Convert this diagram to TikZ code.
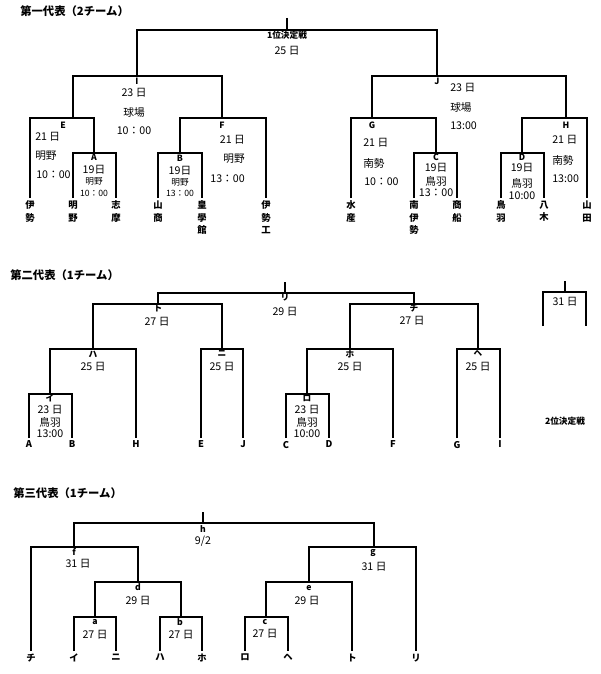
\documentclass[tikz,border=0pt]{standalone}
\usepackage{fontspec}
\newfontfamily\jp{Noto Sans CJK JP}

\begin{document}
\begin{tikzpicture}[x=0.75pt, y=-0.75pt,
  bar/.style={black, line width=1pt},
  rnd/.style={font=\jp\bfseries\fontsize{6.5}{7}\selectfont, inner sep=0pt},
  info/.style={font=\jp\fontsize{8}{9}\selectfont, inner sep=0pt},
  boxtxt/.style={font=\jp\fontsize{8}{9}\selectfont, inner sep=0pt},
  tiny/.style={font=\jp\fontsize{6.5}{7}\selectfont, inner sep=0pt},
  team/.style={font=\jp\bfseries\fontsize{7}{9.4}\selectfont, inner sep=2pt, anchor=north, align=center},
  ttl/.style={font=\jp\bfseries\fontsize{8.5}{10}\selectfont, anchor=west, inner sep=0pt}]
  \useasboundingbox (0,0) rectangle (600,674);

  % first representative
  \node[ttl] (ttl1) at (20,11) {第一代表（2チーム）};
  \coordinate (s1) at (287,18);
  \coordinate (m1) at (287,30);
  \coordinate (mI) at (137,76);
  \coordinate (mJ) at (437,76);
  \coordinate (mE) at (73,118);
  \coordinate (mF) at (222,118);
  \coordinate (mG) at (372,118);
  \coordinate (mH) at (566,118);
  \coordinate (mA) at (94,153);
  \coordinate (mB) at (180,153);
  \coordinate (mC) at (436,153);
  \coordinate (mD) at (522,153);
  \node[team] (ise) at (30,198) {伊\\勢};
  \node[team] (akeno) at (73,198) {明\\野};
  \node[team] (shima) at (116,198) {志\\摩};
  \node[team] (sansho) at (158,198) {山\\商};
  \node[team] (kogakkan) at (202,198) {皇\\學\\館};
  \node[team] (iseko) at (266,198) {伊\\勢\\工};
  \node[team] (suisan) at (351,198) {水\\産};
  \node[team] (minamiise) at (414,198) {南\\伊\\勢};
  \node[team] (shosen) at (457,198) {商\\船};
  \node[team] (toba) at (501,198) {鳥\\羽};
  \node[team] (yagi) at (544,198) {八\\木};
  \node[team] (yamada) at (587,198) {山\\田};
  \draw[bar] (s1) -- (m1);
  \draw[bar] (mI) |- (m1) -| (mJ);
  \draw[bar] (mE) |- (mI) -| (mF);
  \draw[bar] (mG) |- (mJ) -| (mH);
  \draw[bar] (ise) |- (mE) -| (mA);
  \draw[bar] (mB) |- (mF) -| (iseko);
  \draw[bar] (suisan) |- (mG) -| (mC);
  \draw[bar] (mD) |- (mH) -| (yamada);
  \draw[bar] (akeno) |- (mA) -| (shima);
  \draw[bar] (sansho) |- (mB) -| (kogakkan);
  \draw[bar] (minamiise) |- (mC) -| (shosen);
  \draw[bar] (toba) |- (mD) -| (yagi);
  \node[rnd] (r1) at (287,35) {1位決定戦};
  \node[info] (r1d) at (287,51) {25 日};
  \node[rnd] (rI) at (137,81) {I};
  \node[info] (rId) at (134,93) {23 日};
  \node[info] (rIp) at (134,112) {球場};
  \node[info] (rIt) at (134,131) {10：00};
  \node[rnd] (rJ) at (437,81) {J};
  \node[info, anchor=west] (rJd) at (450,88) {23 日};
  \node[info, anchor=west] (rJp) at (450,107) {球場};
  \node[info, anchor=west] (rJt) at (450,126) {13:00};
  \node[rnd] (rE) at (63,125) {E};
  \node[info, anchor=west] (rEd) at (35,137) {21 日};
  \node[info, anchor=west] (rEp) at (35,156) {明野};
  \node[info, anchor=west] (rEt) at (36,175) {10：00};
  \node[rnd] (rF) at (222,125) {F};
  \node[info, anchor=east] (rFd) at (245,140) {21 日};
  \node[info, anchor=east] (rFp) at (245,159) {明野};
  \node[info, anchor=east] (rFt) at (245,179) {13：00};
  \node[rnd] (rG) at (372,125) {G};
  \node[info, anchor=west] (rGd) at (363,143) {21 日};
  \node[info, anchor=west] (rGp) at (363,163) {南勢};
  \node[info, anchor=west] (rGt) at (364,182) {10：00};
  \node[rnd] (rH) at (566,125) {H};
  \node[info, anchor=west] (rHd) at (552,140) {21 日};
  \node[info, anchor=west] (rHp) at (552,160) {南勢};
  \node[info, anchor=west] (rHt) at (552,179) {13:00};
  \node[rnd] (rA) at (94,157) {A};
  \node[boxtxt] (rAd) at (94,170) {19日};
  \node[tiny] (rAp) at (94,181) {明野};
  \node[tiny] (rAt) at (94,193) {10：00};
  \node[rnd] (rB) at (180,158) {B};
  \node[boxtxt] (rBd) at (180,171) {19日};
  \node[tiny] (rBp) at (180,182) {明野};
  \node[tiny] (rBt) at (180,193) {13：00};
  \node[rnd] (rC) at (436,157) {C};
  \node[boxtxt] (rCd) at (436,168) {19日};
  \node[boxtxt] (rCp) at (436,181) {鳥羽};
  \node[boxtxt] (rCt) at (436,193) {13：00};
  \node[rnd] (rD) at (522,157) {D};
  \node[boxtxt] (rDd) at (522,168) {19日};
  \node[boxtxt] (rDp) at (522,183) {鳥羽};
  \node[boxtxt] (rDt) at (522,196) {10:00};

  % second representative
  \node[ttl] (ttl2) at (10,275) {第二代表（1チーム）};
  \coordinate (s2) at (285,282);
  \coordinate (m2) at (285,293);
  \coordinate (mTo) at (158,304);
  \coordinate (mChi) at (414,304);
  \coordinate (mHa) at (93,349);
  \coordinate (mNi) at (222,349);
  \coordinate (mHo) at (350,349);
  \coordinate (mHe) at (478,349);
  \coordinate (mI2) at (50,394);
  \coordinate (mRo) at (307,394);
  \node[team] (A2) at (29,438) {A};
  \node[team] (B2) at (72,438) {B};
  \node[team] (H2) at (136,438) {H};
  \node[team] (E2) at (201,438) {E};
  \node[team] (J2) at (243,438) {J};
  \node[team] (C2) at (286,438) {C};
  \node[team] (D2) at (329,438) {D};
  \node[team] (F2) at (393,438) {F};
  \node[team] (G2) at (457,438) {G};
  \node[team] (I2) at (500,438) {I};
  \draw[bar] (s2) -- (m2);
  \draw[bar] (mTo) |- (m2) -| (mChi);
  \draw[bar] (mHa) |- (mTo) -| (mNi);
  \draw[bar] (mHo) |- (mChi) -| (mHe);
  \draw[bar] (mI2) |- (mHa) -| (H2);
  \draw[bar] (E2) |- (mNi) -| (J2);
  \draw[bar] (mRo) |- (mHo) -| (F2);
  \draw[bar] (G2) |- (mHe) -| (I2);
  \draw[bar] (A2) |- (mI2) -| (B2);
  \draw[bar] (C2) |- (mRo) -| (D2);
  \node[rnd] (rRi) at (285,297) {リ};
  \node[info] (rRid) at (285,312) {29 日};
  \node[rnd] (rTo) at (158,308) {ト};
  \node[info] (rTod) at (157,322) {27 日};
  \node[rnd] (rChi) at (414,308) {チ};
  \node[info] (rChid) at (412,321) {27 日};
  \node[rnd] (rHa) at (93,354) {ハ};
  \node[info] (rHad) at (93,367) {25 日};
  \node[rnd] (rNi) at (222,353) {ニ};
  \node[info] (rNid) at (222,367) {25 日};
  \node[rnd] (rHo) at (350,354) {ホ};
  \node[info] (rHod) at (350,367) {25 日};
  \node[rnd] (rHe) at (478,353) {ヘ};
  \node[info] (rHed) at (478,367) {25 日};
  \node[rnd] (rI2) at (50,398) {イ};
  \node[boxtxt] (rI2d) at (50,410) {23 日};
  \node[boxtxt] (rI2p) at (50,422) {鳥羽};
  \node[boxtxt] (rI2t) at (50,434) {13:00};
  \node[rnd] (rRo) at (307,398) {ロ};
  \node[boxtxt] (rRod) at (307,410) {23 日};
  \node[boxtxt] (rRop) at (307,422) {鳥羽};
  \node[boxtxt] (rRot) at (307,434) {10:00};
  \coordinate (s31) at (565,281);
  \coordinate (m31) at (565,292);
  \coordinate (l31) at (543,326);
  \coordinate (r31) at (586,326);
  \draw[bar] (s31) -- (m31);
  \draw[bar] (l31) |- (m31) -| (r31);
  \node[info] (r31d) at (565,302) {31 日};
  \node[rnd] (r2nd) at (565,421) {2位決定戦};

  % third representative
  \node[ttl] (ttl3) at (13,493) {第三代表（1チーム）};
  \coordinate (s3) at (203,512);
  \coordinate (m3) at (203,523);
  \coordinate (mf) at (74,547);
  \coordinate (mg) at (374,547);
  \coordinate (md) at (138,582);
  \coordinate (me) at (309,582);
  \coordinate (ma) at (95,617);
  \coordinate (mb) at (181,617);
  \coordinate (mc) at (266,617);
  \node[team] (chi3) at (31,651) {チ};
  \node[team] (i3) at (74,651) {イ};
  \node[team] (ni3) at (116,651) {ニ};
  \node[team] (ha3) at (160,651) {ハ};
  \node[team] (ho3) at (202,651) {ホ};
  \node[team] (ro3) at (245,651) {ロ};
  \node[team] (he3) at (288,651) {ヘ};
  \node[team] (to3) at (352,651) {ト};
  \node[team] (ri3) at (416,651) {リ};
  \draw[bar] (s3) -- (m3);
  \draw[bar] (mf) |- (m3) -| (mg);
  \draw[bar] (chi3) |- (mf) -| (md);
  \draw[bar] (ma) |- (md) -| (mb);
  \draw[bar] (i3) |- (ma) -| (ni3);
  \draw[bar] (ha3) |- (mb) -| (ho3);
  \draw[bar] (me) |- (mg) -| (ri3);
  \draw[bar] (mc) |- (me) -| (to3);
  \draw[bar] (ro3) |- (mc) -| (he3);
  \node[rnd] (rh) at (203,529) {h};
  \node[info] (rhd) at (203,541) {9/2};
  \node[rnd] (rf) at (74,552) {f};
  \node[info] (rfd) at (78,564) {31 日};
  \node[rnd] (rg) at (373,553) {g};
  \node[info] (rgd) at (374,567) {31 日};
  \node[rnd] (rd) at (138,587) {d};
  \node[info] (rdd) at (138,601) {29 日};
  \node[rnd] (re) at (309,588) {e};
  \node[info] (red) at (307,601) {29 日};
  \node[rnd] (ra) at (95,622) {a};
  \node[info] (rad) at (95,635) {27 日};
  \node[rnd] (rb) at (180,622) {b};
  \node[info] (rbd) at (181,635) {27 日};
  \node[rnd] (rc) at (265,622) {c};
  \node[info] (rcd) at (265,634) {27 日};
\end{tikzpicture}
\end{document}
